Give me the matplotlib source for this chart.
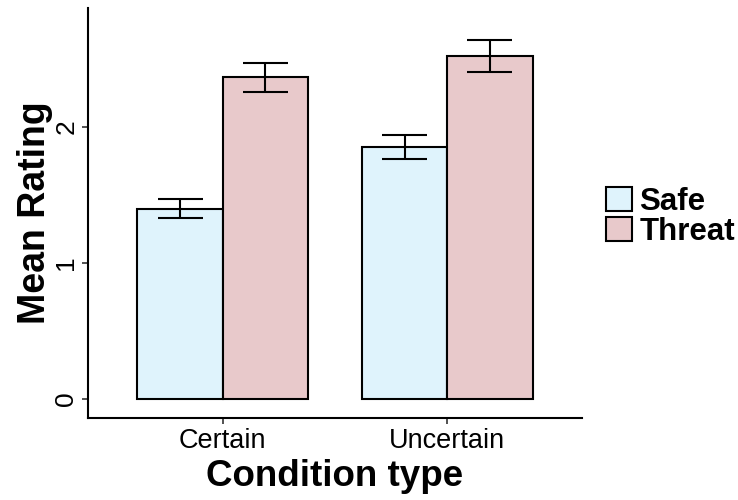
import matplotlib.pyplot as plt
import numpy as np

plt.rcParams['font.family'] = ['Liberation Sans', 'DejaVu Sans']

conditions = ['Certain', 'Uncertain']
groups = ['Safe', 'Threat']
safe_mean = [1.40, 1.855]
safe_err = [0.072, 0.088]
threat_mean = [2.365, 2.522]
threat_err = [0.107, 0.115]

colors = {'Safe': '#dff3fc', 'Threat': '#e8c9cb'}

fig = plt.figure(figsize=(7.38, 5), dpi=100)
ax = fig.add_axes([88/738, 1 - 418/500, (582 - 88)/738, (418 - 8)/500])

x = np.arange(1, len(conditions) + 1)
w = 0.38
cap = 0.1

for off, grp, means, errs in [(-w/2, 'Safe', safe_mean, safe_err),
                              (w/2, 'Threat', threat_mean, threat_err)]:
    pos = x + off
    ax.bar(pos, means, width=w, color=colors[grp], edgecolor='black',
           linewidth=1.5, label=grp, zorder=2)
    lo = np.array(means) - np.array(errs)
    hi = np.array(means) + np.array(errs)
    ax.vlines(pos, lo, hi, color='black', linewidth=1.5, zorder=3)
    ax.hlines(lo, pos - cap, pos + cap, color='black', linewidth=1.5, zorder=3)
    ax.hlines(hi, pos - cap, pos + cap, color='black', linewidth=1.5, zorder=3)

ax.set_xlim(0.4, 2.6)
ax.set_ylim(-0.14, 2.875)
ax.set_xticks(x)
ax.set_xticklabels(conditions, fontsize=19.5)
ax.set_yticks([0, 1, 2])
ax.set_yticklabels(['0', '1', '2'], fontsize=19, rotation=90, va='center')

for s in ['top', 'right']:
    ax.spines[s].set_visible(False)
for s in ['left', 'bottom']:
    ax.spines[s].set_linewidth(1.5)
ax.tick_params(length=4, width=1.2, color='#333333', pad=3)

ax.set_xlabel('Condition type', fontsize=26.5, fontweight='bold', labelpad=4)
ax.set_ylabel('Mean Rating', fontsize=27, fontweight='bold', labelpad=1)

fig.legend(loc='center left', bbox_to_anchor=(606/738, 1 - 217/500),
           frameon=False, prop={'weight': 'bold', 'size': 22.5},
           handlelength=0.82, handleheight=0.82, labelspacing=0.0,
           handletextpad=0.25, borderpad=0, borderaxespad=0)

fig.savefig('out.png', dpi=100)
